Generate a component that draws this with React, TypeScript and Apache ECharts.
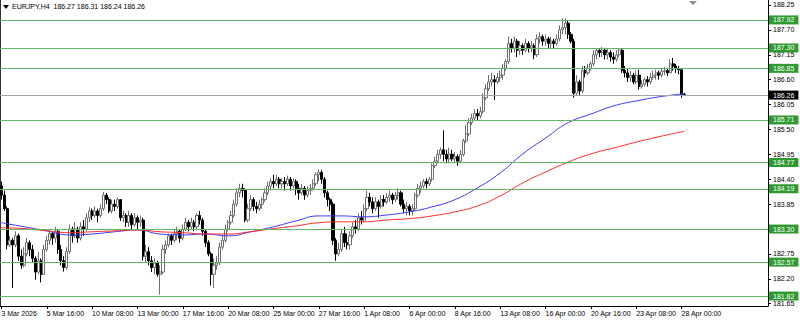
import React, { useEffect, useRef } from "react";
import * as echarts from "echarts";

const symbolTitle = "EURJPY,H4";
const tickLabels = [
  "3 Mar 2026", "5 Mar 16:00", "10 Mar 08:00", "13 Mar 00:00", "17 Mar 16:00", "20 Mar 08:00",
  "25 Mar 00:00", "27 Mar 16:00", "1 Apr 08:00", "6 Apr 00:00", "8 Apr 16:00", "13 Apr 08:00",
  "16 Apr 00:00", "20 Apr 16:00", "23 Apr 08:00", "28 Apr 00:00",
];
const priceTicks = [188.25, 187.7, 187.15, 186.6, 186.05, 185.5, 184.95, 184.4, 183.85, 183.3, 182.75, 182.2, 181.65];
const priceLabels = [188.25, 187.7, 187.15, 186.6, 186.05, 185.5, 184.95, 184.4, 183.85, 182.75, 182.2, 181.65];
const levels = [187.92, 187.3, 186.85, 185.71, 184.77, 184.19, 183.3, 182.57, 181.82];
const lastPrice = 186.26;
const firstOpen = 184.25;

const closes = [
  184.05, 183.75, 182.95, 183.05, 182.95, 183.15, 182.7, 182.5, 182.75, 183.0, 182.85, 182.65, 182.35, 182.6, 182.3, 182.85,
  183.05, 183.2, 183.1, 183.25, 182.85, 182.6, 182.45, 182.8, 183.3, 183.15, 183.3, 183.1, 183.35, 183.3, 183.55, 183.7,
  183.6, 183.7, 183.6, 183.75, 184.05, 183.95, 183.7, 183.85, 183.8, 183.95, 183.55, 183.6, 183.45, 183.6, 183.4, 183.55,
  183.45, 183.5, 182.7, 182.8, 182.6, 182.45, 182.55, 182.3, 182.35, 182.85, 182.95, 183.15, 183.05, 183.2, 183.25, 183.1,
  183.3, 183.45, 183.35, 183.45, 183.35, 183.6, 183.5, 183.25, 183.0, 182.75, 182.3, 182.5, 182.55, 182.9, 183.05, 183.3,
  183.45, 183.6, 183.85, 184.1, 184.2, 184.15, 183.5, 183.75, 183.95, 183.8, 183.75, 183.85, 183.95, 184.1, 184.25, 184.35,
  184.3, 184.4, 184.3, 184.35, 184.3, 184.4, 184.25, 184.35, 184.2, 184.1, 184.2, 184.05, 184.15, 184.2, 184.3, 184.5,
  184.55, 184.4, 184.1, 183.95, 183.85, 183.05, 182.75, 182.85, 183.2, 183.0, 182.95, 183.15, 183.35, 183.3, 183.55, 183.5,
  183.75, 184.0, 183.9, 183.75, 183.9, 183.8, 183.95, 183.9, 184.0, 184.05, 183.95, 184.05, 184.1, 183.85, 183.75, 183.8,
  183.7, 183.75, 184.05, 184.2, 184.25, 184.35, 184.3, 184.4, 184.7, 184.8, 184.95, 185.05, 184.95, 184.85, 184.95, 184.85,
  184.9, 184.8, 184.95, 185.25, 185.4, 185.65, 185.75, 185.85, 185.8, 185.9, 186.2, 186.4, 186.55, 186.6, 186.55, 186.65,
  186.7, 186.85, 187.0, 187.4, 187.3, 187.45, 187.25, 187.35, 187.25, 187.4, 187.3, 187.35, 187.15, 187.5, 187.55, 187.45,
  187.5, 187.4, 187.45, 187.4, 187.5, 187.7, 187.75, 187.85, 187.6, 187.45, 186.3, 186.55, 186.35, 186.8, 186.75, 186.85,
  186.95, 187.15, 187.25, 187.2, 187.25, 187.15, 187.2, 187.1, 187.05, 187.15, 187.25, 186.8, 186.75, 186.65, 186.7, 186.55,
  186.7, 186.45, 186.5, 186.6, 186.55, 186.65, 186.7, 186.75, 186.7, 186.78, 186.8, 186.75, 186.95, 186.9, 186.85, 186.82,
  186.27, 186.26,
];
const highs = [
  184.35, 184.15, 183.8, 183.15, 183.1, 183.25, 183.2, 182.85, 182.9, 183.1, 183.05, 182.95, 182.7, 182.8, 182.65, 182.95,
  183.15, 183.3, 183.25, 183.35, 183.3, 182.95, 182.7, 182.9, 183.4, 183.35, 183.45, 183.35, 183.45, 183.5, 183.65, 183.78,
  183.75, 183.8, 183.75, 183.85, 184.12, 184.1, 184.0, 183.95, 183.95, 184.0, 183.95, 183.7, 183.65, 183.7, 183.65, 183.65,
  183.6, 183.6, 183.55, 182.95, 182.9, 182.7, 182.65, 182.6, 182.5, 182.95, 183.05, 183.2, 183.2, 183.3, 183.35, 183.3,
  183.4, 183.55, 183.5, 183.55, 183.5, 183.65, 183.7, 183.55, 183.3, 183.05, 182.8, 182.65, 182.7, 183.0, 183.15, 183.4,
  183.5, 183.7, 183.95, 184.2, 184.3, 184.3, 184.2, 183.85, 184.05, 184.0, 183.9, 183.95, 184.0, 184.2, 184.35, 184.42,
  184.5, 184.5, 184.45, 184.42, 184.45, 184.48, 184.45, 184.42, 184.4, 184.3, 184.3, 184.25, 184.25, 184.3, 184.4, 184.55,
  184.62, 184.6, 184.45, 184.15, 184.0, 183.9, 183.1, 183.0, 183.3, 183.35, 183.2, 183.25, 183.45, 183.5, 183.65, 183.7,
  183.85, 184.15, 184.1, 184.0, 184.0, 183.95, 184.05, 184.05, 184.1, 184.15, 184.1, 184.12, 184.2, 184.15, 183.95, 183.9,
  183.85, 183.85, 184.1, 184.3, 184.35, 184.4, 184.42, 184.45, 184.75, 184.9, 185.05, 185.1, 185.48, 185.05, 185.1, 185.05,
  185.0, 184.95, 185.05, 185.3, 185.6, 185.75, 185.85, 185.95, 185.95, 186.0, 186.3, 186.5, 186.7, 186.75, 186.7, 186.75,
  186.8, 186.95, 187.05, 187.55, 187.5, 187.55, 187.5, 187.45, 187.4, 187.5, 187.45, 187.45, 187.4, 187.6, 187.65, 187.6,
  187.6, 187.55, 187.55, 187.5, 187.6, 187.8, 187.95, 187.95, 187.9, 187.65, 187.5, 186.7, 186.6, 186.9, 186.9, 186.95,
  187.0, 187.25, 187.3, 187.3, 187.32, 187.3, 187.28, 187.25, 187.2, 187.25, 187.3, 187.28, 186.9, 186.85, 186.8, 186.75,
  186.8, 186.82, 186.6, 186.65, 186.68, 186.75, 186.8, 186.82, 186.8, 186.85, 186.88, 186.85, 187.05, 187.08, 186.95, 186.9,
  186.85, 186.31,
];
const lows = [
  183.95, 183.7, 182.85, 182.9, 182.0, 182.9, 182.6, 182.42, 182.45, 182.7, 182.7, 182.55, 182.18, 182.3, 182.12, 182.3,
  182.8, 182.95, 182.95, 183.0, 182.75, 182.5, 182.36, 182.4, 182.75, 183.0, 183.1, 183.0, 183.05, 183.15, 183.25, 183.45,
  183.5, 183.55, 183.45, 183.55, 183.7, 183.85, 183.65, 183.65, 183.7, 183.75, 183.48, 183.45, 183.35, 183.35, 183.3, 183.35,
  183.3, 183.35, 182.6, 182.55, 182.5, 182.35, 182.3, 182.25, 181.85, 182.3, 182.75, 182.9, 182.95, 183.0, 183.05, 183.0,
  183.05, 183.25, 183.25, 183.3, 183.25, 183.3, 183.4, 183.15, 182.9, 182.7, 182.05, 182.0, 182.4, 182.5, 182.85, 183.0,
  183.25, 183.4, 183.55, 183.8, 184.0, 184.0, 183.45, 183.45, 183.7, 183.7, 183.65, 183.7, 183.75, 183.9, 184.05, 184.15,
  184.2, 184.25, 184.2, 184.2, 184.15, 184.25, 184.15, 184.2, 184.05, 183.95, 184.05, 183.95, 184.0, 184.05, 184.15, 184.25,
  184.35, 184.3, 184.0, 183.8, 183.7, 182.95, 182.6, 182.7, 182.8, 182.9, 182.85, 182.85, 183.1, 183.2, 183.25, 183.4,
  183.45, 183.7, 183.8, 183.65, 183.7, 183.55, 183.75, 183.8, 183.85, 183.9, 183.85, 183.9, 183.95, 183.8, 183.65, 183.6,
  183.6, 183.6, 183.7, 184.0, 184.1, 184.2, 184.2, 184.25, 184.35, 184.65, 184.75, 184.85, 184.8, 184.75, 184.75, 184.8,
  184.75, 184.7, 184.75, 184.9, 185.2, 185.35, 185.6, 185.7, 185.7, 185.75, 185.85, 186.15, 186.35, 186.45, 186.15, 186.5,
  186.55, 186.6, 186.8, 186.95, 187.2, 187.2, 187.1, 187.15, 187.15, 187.2, 187.2, 187.2, 187.05, 187.1, 187.4, 187.35,
  187.35, 187.3, 187.3, 187.3, 187.35, 187.45, 187.6, 187.6, 187.5, 187.4, 186.2, 186.25, 186.25, 186.3, 186.65, 186.7,
  186.8, 186.9, 187.05, 187.1, 187.1, 187.05, 187.05, 187.0, 186.95, 187.0, 187.1, 186.75, 186.65, 186.55, 186.55, 186.5,
  186.5, 186.38, 186.4, 186.45, 186.45, 186.5, 186.6, 186.6, 186.6, 186.65, 186.7, 186.68, 186.75, 186.8, 186.75, 186.72,
  186.2, 186.24,
];

const maIdx = [0, 8, 16, 24, 32, 40, 48, 56, 64, 72, 80, 88, 96, 104, 112, 120, 128, 136, 144, 152, 160, 168, 176, 184, 192, 200, 208, 216, 224, 232, 241];
const maFast = [
  183.44, 183.35, 183.26, 183.17, 183.19, 183.24, 183.28, 183.19, 183.17, 183.19, 183.15, 183.24, 183.35, 183.48, 183.59, 183.59,
  183.57, 183.61, 183.68, 183.79, 183.95, 184.21, 184.54, 184.96, 185.31, 185.65, 185.84, 186.02, 186.13, 186.22, 186.29,
];
const maSlow = [
  183.33, 183.31, 183.26, 183.22, 183.24, 183.26, 183.28, 183.24, 183.22, 183.19, 183.19, 183.24, 183.31, 183.37, 183.44, 183.46,
  183.46, 183.5, 183.53, 183.59, 183.68, 183.81, 184.03, 184.32, 184.56, 184.78, 184.96, 185.09, 185.22, 185.34, 185.46,
];

const TOTAL_SLOTS = 271;
const MONTHS = ["Jan", "Feb", "Mar", "Apr", "May", "Jun"];
const categories: string[] = (() => {
  const out: string[] = [];
  let t = Date.UTC(2026, 2, 3, 0);
  while (out.length < TOTAL_SLOTS) {
    const d = new Date(t);
    const wd = d.getUTCDay();
    if (wd !== 0 && wd !== 6) {
      out.push(`${d.getUTCDate()} ${MONTHS[d.getUTCMonth()]} ${String(d.getUTCHours()).padStart(2, "0")}:00`);
    }
    t += 4 * 3600 * 1000;
  }
  return out;
})();

const FONT = "'Liberation Sans', Arial, sans-serif";
const Y_MIN = 181.6;
const Y_MAX = 188.36;

export default function App() {
  const ref = useRef<HTMLDivElement>(null);
  useEffect(() => {
    document.body.style.margin = "0";
    if (!ref.current) return;
    const chart = echarts.init(ref.current, undefined, { renderer: "svg" });

    const candles = closes.map((c, i) => {
      const o = i === 0 ? firstOpen : closes[i - 1];
      return [o, c, Math.min(lows[i], o, c), Math.max(highs[i], o, c)];
    });
    const last = candles[candles.length - 1];
    const header = `${symbolTitle}  ${last[0].toFixed(2)} ${last[3].toFixed(2)} ${last[2].toFixed(2)} ${last[1].toFixed(2)}`;

    const showTick = (i: number) => i % 16 === 0 && i / 16 < tickLabels.length;

    const levelLabel = {
      show: true,
      position: "end",
      distance: 1,
      formatter: (p: any) => Number(p.value).toFixed(2),
      color: "#ffffff",
      fontSize: 7,
      lineHeight: 8,
      fontFamily: FONT,
      backgroundColor: "#2f9a2f",
      padding: [1, 4, 0, 4],
    };

    chart.setOption({
      animation: false,
      backgroundColor: "#ffffff",
      grid: { left: 0, right: 32, top: 0, bottom: 14, outerBoundsMode: "none", containLabel: false },
      xAxis: {
        type: "category",
        data: categories,
        boundaryGap: true,
        axisLine: { show: true, lineStyle: { color: "#000", width: 1 } },
        axisTick: { show: true, alignWithLabel: true, interval: showTick, length: 3, lineStyle: { color: "#000" } },
        axisLabel: {
          interval: showTick,
          formatter: (_v: string, i: number) => tickLabels[i / 16] ?? "",
          align: "left",
          fontSize: 7,
          fontFamily: FONT,
          color: "#000",
          margin: 4,
        },
        splitLine: { show: false },
      },
      yAxis: [
        {
          type: "value",
          position: "right",
          min: Y_MIN,
          max: Y_MAX,
          splitLine: { show: false },
          axisLine: { show: true, lineStyle: { color: "#000", width: 1 } },
          axisTick: { show: true, length: 3, customValues: priceTicks, lineStyle: { color: "#000" } },
          axisLabel: {
            customValues: priceLabels,
            showMinLabel: true,
            showMaxLabel: true,
            hideOverlap: false,
            formatter: (v: number) => v.toFixed(2),
            fontSize: 7,
            fontFamily: FONT,
            color: "#000",
            margin: 5,
          },
        },
        {
          type: "value",
          position: "left",
          min: Y_MIN,
          max: Y_MAX,
          splitLine: { show: false },
          axisLine: { show: true, lineStyle: { color: "#333", width: 1 } },
          axisTick: { show: false },
          axisLabel: { show: false },
        },
      ],
      series: [
        {
          type: "candlestick",
          data: candles,
          barWidth: 2.6,
          itemStyle: {
            color: "#ffffff",
            color0: "#000000",
            borderColor: "#6e6e6e",
            borderColor0: "#000000",
            borderWidth: 1,
          },
          markLine: {
            silent: true,
            symbol: ["none", "none"],
            animation: false,
            lineStyle: { type: "solid", width: 1 },
            data: [
              ...levels.map((v) => ({
                yAxis: v,
                lineStyle: { color: "#62b862", type: "solid", width: 1 },
                label: levelLabel,
              })),
              {
                yAxis: lastPrice,
                lineStyle: { color: "#a2a2b0", type: "solid", width: 1 },
                label: { ...levelLabel, backgroundColor: "#000000" },
              },
            ],
          },
          z: 3,
        },
        {
          type: "line",
          data: maIdx.map((idx, k) => [idx, maFast[k]]),
          smooth: true,
          symbol: "none",
          lineStyle: { color: "#3a3aff", width: 1 },
          z: 4,
        },
        {
          type: "line",
          data: maIdx.map((idx, k) => [idx, maSlow[k]]),
          smooth: true,
          symbol: "none",
          lineStyle: { color: "#ff2a2a", width: 1 },
          z: 4,
        },
      ],
      graphic: [
        { type: "polygon", shape: { points: [[3, 5], [9, 5], [6, 9]] }, style: { fill: "#000" } },
        {
          type: "text",
          left: 12,
          top: 3,
          style: { text: header, fontSize: 7, fontFamily: FONT, fill: "#000" },
        },
        { type: "polygon", shape: { points: [[689, 1], [697, 1], [693, 5]] }, style: { fill: "#8a8a9a" } },
      ],
    });
    return () => chart.dispose();
  }, []);
  return <div ref={ref} style={{ width: 800, height: 320 }} />;
}
